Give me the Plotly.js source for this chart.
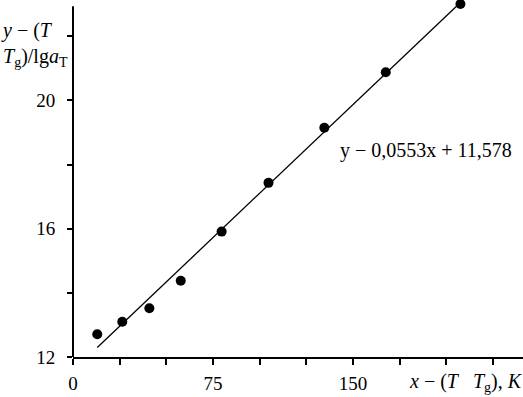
<!DOCTYPE html>
<html>
<head>
<meta charset="utf-8">
<script src="https://cdn.plot.ly/plotly-3.0.1.min.js"></script>
<style>
  html, body { margin: 0; padding: 0; background: #fff; }
  #chart { width: 523px; height: 397px; }
</style>
</head>
<body>
<div id="chart"></div>
<script>
// measured points, x - (T - Tg) in K, y - (T - Tg)/lg aT
let xVals = [13, 26.4, 40.9, 57.7, 79.6, 104.7, 134.6, 167.5, 207.5];
let yVals = [12.71, 13.10, 13.52, 14.38, 15.91, 17.43, 19.15, 20.88, 23.01];

// trend line y = 0,0553x + 11,578
let slope = 0.0553;
let intercept = 11.578;
let fitX = [13, 207.5];
let fitY = [];
for (let i = 0; i < fitX.length; i++)
    fitY.push(slope * fitX[i] + intercept);

let xTicks = [0, 75, 150];
let yTicks = [12, 16, 20];

let serif = 'Liberation Serif';

var data = [{
    x: fitX,
    y: fitY,
    mode: 'lines',
    line: {color: '#000', width: 1.3},
    hoverinfo: 'skip'
}, {
    x: xVals,
    y: yVals,
    mode: 'markers',
    marker: {color: '#000', size: 10},
    cliponaxis: false
}];

var layout = {
    width: 523,
    height: 397,
    margin: {l: 73, r: 0, t: 2, b: 40},
    showlegend: false,
    plot_bgcolor: '#fff',
    paper_bgcolor: '#fff',
    font: {family: serif, size: 19, color: '#000'},
    xaxis: {
        range: [0, 241],
        tickvals: xTicks,
        ticks: 'outside',
        ticklen: 6,
        tickwidth: 2,
        tickcolor: '#000',
        ticklabelstandoff: 2,
        minor: {dtick: 25, tick0: 0, ticks: 'outside', ticklen: 6, tickwidth: 2, tickcolor: '#000'},
        showline: true,
        linecolor: '#000',
        linewidth: 2,
        showgrid: false,
        zeroline: false
    },
    yaxis: {
        range: [12, 23.07],
        tickvals: yTicks,
        ticks: 'outside',
        ticklen: 5,
        tickwidth: 2,
        tickcolor: '#000',
        ticklabelstandoff: 8,
        minor: {dtick: 2, tick0: 12, ticks: 'outside', ticklen: 5, tickwidth: 2, tickcolor: '#000'},
        showline: false,
        showgrid: false,
        zeroline: false
    },
    shapes: [{
        type: 'line',
        xref: 'paper', yref: 'y',
        x0: 0, x1: 0, y0: 12, y1: 22.94,
        line: {color: '#000', width: 2}
    }],
    annotations: [{
        xref: 'paper', yref: 'paper',
        x: 1, y: 0, yshift: -25, xshift: 2,
        xanchor: 'right', yanchor: 'middle',
        showarrow: false,
        font: {family: serif, size: 20},
        text: '<i>x</i> − (<i>T</i>   <i>T</i><sub>g</sub>), <i>K</i>'
    }, {
        xref: 'paper', yref: 'paper',
        x: 0, y: 1, xshift: -74, yshift: -15,
        xanchor: 'left', yanchor: 'top',
        align: 'left',
        showarrow: false,
        font: {family: serif, size: 20},
        text: '<i>y</i> − (<i>T</i><br><i>T</i><sub>g</sub>)/lg<i>a</i><sub>T</sub>'
    }, {
        xref: 'x', yref: 'y',
        x: 189, y: 18.44,
        xanchor: 'center', yanchor: 'middle',
        showarrow: false,
        font: {family: serif, size: 20},
        text: 'y − 0,0553x + 11,578'
    }]
};

Plotly.newPlot('chart', data, layout, {displayModeBar: false, staticPlot: true});
</script>
</body>
</html>
